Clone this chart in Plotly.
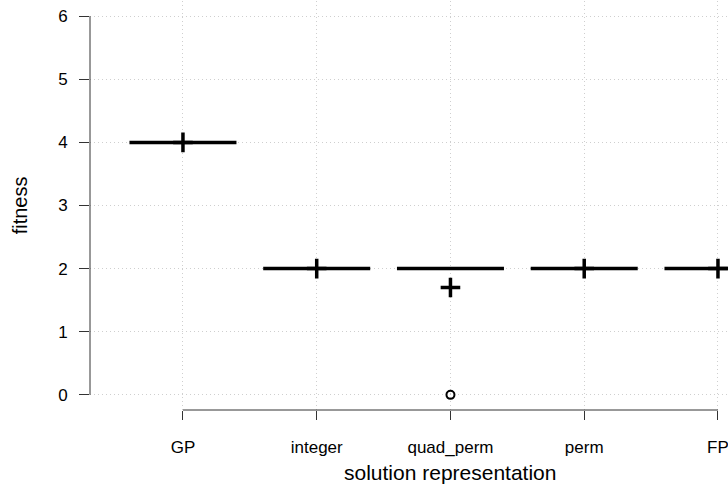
import plotly.graph_objects as go

categories = ["GP", "integer", "quad_perm", "perm", "FP"]
medians = [4, 2, 2, 2, 2]
q1_vals = [4, 2, 2, 2, 2]
q3_vals = [4, 2, 2, 2, 2]
lower_fence = [4, 2, 2, 2, 2]
upper_fence = [4, 2, 2, 2, 2]
means = [4.0, 2.0, 1.7, 2.0, 2.0]
outlier_x = ["quad_perm"]
outlier_y = [0]
y_ticks = [0, 1, 2, 3, 4, 5, 6]

FONT = "Liberation Sans, Arial, sans-serif"

fig = go.Figure()
fig.add_trace(go.Box(
    x=categories, q1=q1_vals, median=medians, q3=q3_vals,
    lowerfence=lower_fence, upperfence=upper_fence,
    width=0.8, whiskerwidth=0,
    line=dict(color="black", width=3.5),
    fillcolor="rgba(0,0,0,0)", boxpoints=False, hoverinfo="skip",
    showlegend=False,
))
fig.add_trace(go.Scatter(
    x=categories, y=means, mode="markers",
    marker=dict(symbol="cross-thin", size=14, color="black",
                line=dict(width=3.5, color="black")),
    showlegend=False, hoverinfo="skip",
))
fig.add_trace(go.Scatter(
    x=outlier_x, y=outlier_y, mode="markers",
    marker=dict(symbol="circle-open", size=8, color="black",
                line=dict(width=2, color="black")),
    showlegend=False, hoverinfo="skip",
))

axis_col = "#333333"
grid_col = "#cfcfcf"

fig.update_layout(
    width=728, height=489,
    margin=dict(l=90, r=0, t=1, b=79),
    paper_bgcolor="white", plot_bgcolor="white",
    font=dict(family=FONT, size=17, color="black"),
    xaxis=dict(
        type="category", categoryorder="array", categoryarray=categories,
        range=[-0.695, 4.075],
        showline=False, zeroline=False,
        showgrid=True, gridcolor=grid_col, griddash="1px,3px", gridwidth=1,
        ticks="outside", ticklen=9, tickcolor=axis_col, tickwidth=1,
        ticklabelstandoff=13,
        tickfont=dict(family=FONT, size=17, color="black"),
    ),
    yaxis=dict(
        range=[-0.24, 6.24],
        tickvals=y_ticks,
        showline=False, zeroline=False,
        showgrid=True, gridcolor=grid_col, griddash="1px,3px", gridwidth=1,
        ticks="outside", ticklen=10, tickcolor=axis_col, tickwidth=1,
        ticklabelstandoff=8,
        tickfont=dict(family=FONT, size=17, color="black"),
    ),
    shapes=[
        dict(type="line", xref="paper", yref="y", x0=0, x1=0,
             y0=min(y_ticks), y1=max(y_ticks),
             line=dict(color=axis_col, width=1)),
        dict(type="line", xref="x", yref="paper", x0=0, x1=len(categories) - 1,
             y0=0, y1=0, line=dict(color=axis_col, width=1)),
    ],
    annotations=[
        dict(text="solution representation", xref="x", yref="paper",
             x=2, y=-0.152, xanchor="center", yanchor="middle",
             showarrow=False, font=dict(family=FONT, size=21, color="black")),
        dict(text="fitness", xref="paper", yref="y",
             x=-0.11, y=3, xanchor="center", yanchor="middle", textangle=-90,
             showarrow=False, font=dict(family=FONT, size=20, color="black")),
    ],
)

fig.write_html("out.html")
